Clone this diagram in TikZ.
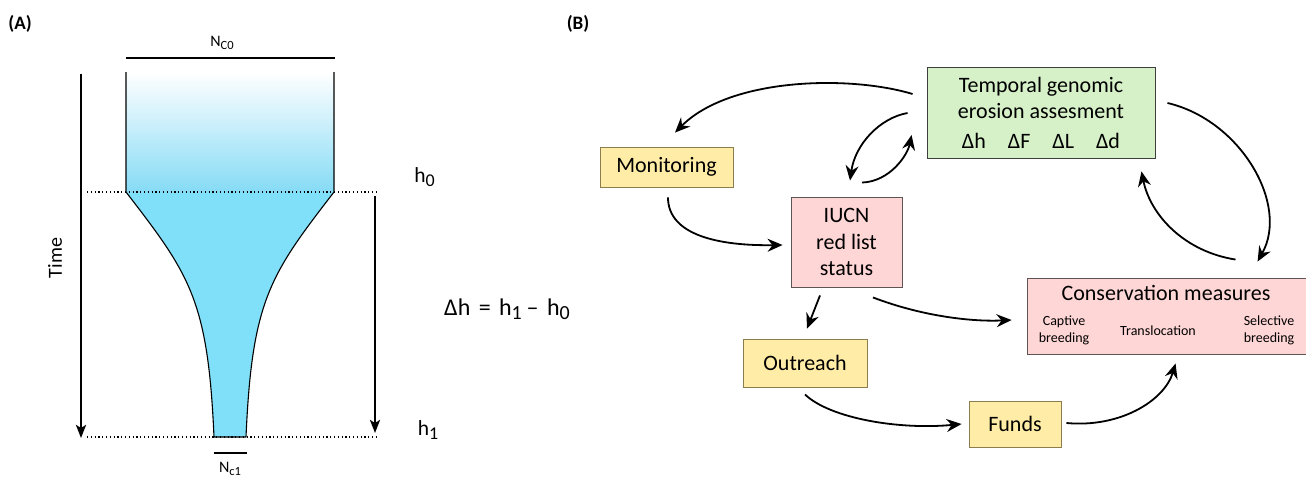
\documentclass[tikz,border=0pt]{standalone}
\usepackage{fontspec}
\setmainfont{Carlito}
\usetikzlibrary{arrows.meta,calc}

\definecolor{yellowfill}{HTML}{FFECA6}
\definecolor{yellowedge}{HTML}{8C7D4F}
\definecolor{pinkfill}{HTML}{FFD6D6}
\definecolor{pinkedge}{HTML}{5E5454}
\definecolor{greenfill}{HTML}{D6F1C8}
\definecolor{greenedge}{HTML}{3E3E3E}
\definecolor{popfill}{HTML}{80DFF9}
\definecolor{poptop}{HTML}{86DBF5}

% lowered, slightly reduced subscripts
\newcommand{\hsub}[1]{\raisebox{-4pt}{\fontsize{18}{18}\selectfont #1}}
\newcommand{\eqsub}[1]{\raisebox{-4.5pt}{\fontsize{20}{20}\selectfont #1}}
\newcommand{\nsub}[1]{\raisebox{-3pt}{\fontsize{12.5}{12.5}\selectfont #1}}

\begin{document}
\begin{tikzpicture}[x=1pt,y=-1pt,
  box/.style={draw, line width=0.9pt, inner sep=0pt, align=center,
    font=\fontsize{22}{26.5}\selectfont},
  yellowbox/.style={box, fill=yellowfill, draw=yellowedge},
  pinkbox/.style={box, fill=pinkfill, draw=pinkedge},
  greenbox/.style={box, fill=greenfill, draw=greenedge},
  flow/.style={line width=1.8pt, -{Stealth[length=15pt,width=13pt,inset=5pt]}},
  timearrow/.style={line width=2.5pt, -{Stealth[length=13pt,width=10pt,inset=3pt]}},
  level/.style={line width=1.1pt, dash pattern=on 1.2pt off 2.6pt},
  widthbar/.style={line width=1.6pt},
  lbl/.style={inner sep=0pt, font=\fontsize{21.5}{26}\selectfont},
  smalllbl/.style={inner sep=0pt, align=center, font=\fontsize{14}{17}\selectfont},
  panel/.style={inner sep=0pt, font=\fontsize{19}{22}\selectfont\bfseries}
]
\useasboundingbox (0,0) rectangle (1306,479);

% ---------------- (A) population size through time ----------------
\node[panel] (pA) at (20,24) {(A)};

% upper part: constant size, shaded
\shade[top color=white, bottom color=poptop] (126,72) rectangle (334,192);
% lower part: decline towards the bottleneck
\fill[popfill] (126,192) .. controls (190,275) and (208,300) .. (214,437)
  -- (246,437) .. controls (252,300) and (270,275) .. (334,192) -- cycle;
% outline
\draw[line width=1.1pt, line join=round]
  (126,72) -- (126,192) .. controls (190,275) and (208,300) .. (214,437)
  -- (246,437) .. controls (252,300) and (270,275) .. (334,192) -- (334,72);

% levels h0 and h1
\draw[level] (87,192) -- (376,192);
\draw[level] (87,437) -- (376,437);

% widths
\draw[widthbar] (126,58) -- (335,58);
\node[inner sep=0pt, font=\fontsize{16}{18}\selectfont] (nc0) at (222,43) {N\nsub{C0}};
\draw[widthbar] (214,453) -- (247,453);
\node[inner sep=0pt, font=\fontsize{16}{18}\selectfont] (nc1) at (230,469) {N\nsub{c1}};

% time axis and interval
\draw[timearrow] (81,74) -- (81,438);
\node[inner sep=0pt, rotate=90, font=\fontsize{20}{22}\selectfont] (time) at (55,258) {Time};
\draw[timearrow] (375,196) -- (375,433);

\node[lbl] (h0) at (424.5,177) {h\hsub{0}};
\node[lbl] (h1) at (428,430) {h\hsub{1}};
\node[inner sep=0pt, font=\fontsize{24}{28}\selectfont] (dh) at (507,309)
  {Δh\hspace{0.35em}=\hspace{0.35em}h\eqsub{1}\hspace{0.2em}–\hspace{0.35em}h\eqsub{0}};

% ---------------- (B) conservation feedback loop ----------------
\node[panel] (pB) at (578,24) {(B)};

\node[greenbox, minimum width=228pt, minimum height=91pt] (tge) at (1041,112.5)
  {Temporal genomic\\erosion assesment\\[3pt]Δh\hspace{1em}ΔF\hspace{1em}ΔL\hspace{1em}Δd};
\node[yellowbox, minimum width=133pt, minimum height=40pt] (mon) at (666.5,167) {Monitoring};
\node[pinkbox, minimum width=111pt, minimum height=90pt] (iucn) at (846.5,242) {IUCN\\red list\\status};
\node[yellowbox, minimum width=124pt, minimum height=48pt] (outr) at (805,363) {Outreach};
\node[yellowbox, minimum width=92pt, minimum height=46pt] (funds) at (1015,424) {Funds};
\node[pinkbox, minimum width=285pt, minimum height=76pt] (cons) at (1169.5,316) {};
\node[inner sep=0pt, font=\fontsize{22}{26}\selectfont] (consT) at (1166,293) {Conservation measures};
\node[smalllbl] (consA) at (1064,330) {Captive\\breeding};
\node[smalllbl] (consB) at (1158,331) {Translocation};
\node[smalllbl] (consC) at (1269,330) {Selective\\breeding};

% connectors
\draw[flow] ($(tge.west)+(-14,-18.5)$) .. controls +(-63,-19) and +(55,-55) .. ($(mon.north)+(8.5,-14)$);
\draw[flow] ($(tge.west)+(-19,0.5)$) .. controls +(-28,5) and +(5,-36) .. ($(iucn.north)+(3.5,-16)$);
\draw[flow] ($(iucn.north)+(15.5,-14)$) .. controls +(28,-1) and +(-4,20) .. ($(tge.west)+(-15,22.5)$);
\draw[flow] ($(mon.south)+(1.5,10)$) .. controls +(0,38) and +(-63,1) .. ($(iucn.west)+(-8,3)$);
\draw[flow] ($(iucn.south)+(-26.5,8)$) -- ($(outr.north)+(2,-10)$);
\draw[flow] ($(iucn.south)+(26.5,10)$) .. controls +(47,18) and +(-42,2) .. ($(cons.west)+(-15,4)$);
\draw[flow] ($(outr.south)+(0,7)$) .. controls +(25,24) and +(-62,6) .. ($(funds.west)+(-7,0)$);
\draw[flow] ($(funds.east)+(5,-1)$) .. controls +(54,5) and +(-11,37) .. ($(cons.south west)+(149,9)$);
\draw[flow] ($(cons.north west)+(209,-18)$) .. controls +(-51,-8) and +(9,44) .. ($(tge.south east)+(-14,13)$);
\draw[flow] ($(tge.east)+(12,-9.5)$) .. controls +(73,17) and +(32,-57) .. ($(cons.north west)+(231,-16)$);
\end{tikzpicture}
\end{document}
